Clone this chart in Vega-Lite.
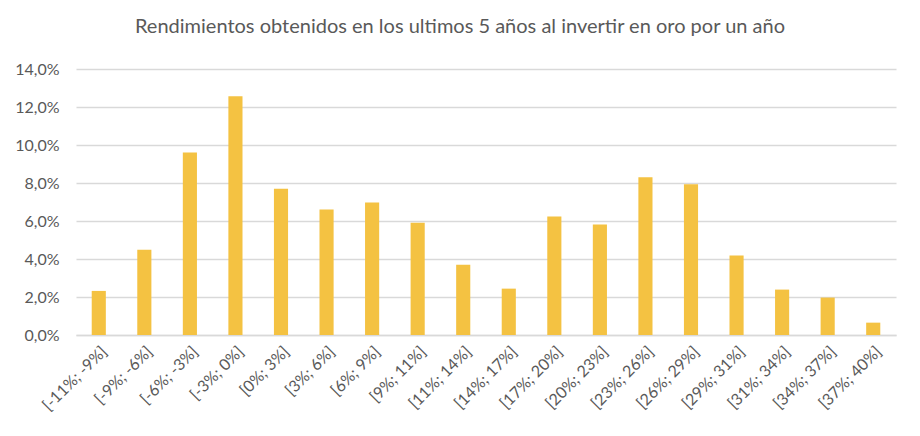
{
  "$schema": "https://vega.github.io/schema/vega-lite/v6.json",
  "width": 820,
  "height": 266,
  "autosize": {"type": "none"},
  "padding": {"left": 76, "top": 69, "right": 24, "bottom": 101},
  "background": "white",
  "title": {
    "text": "Rendimientos obtenidos en los ultimos 5 años al invertir en oro por un año",
    "font": "Lato",
    "fontSize": 20,
    "fontWeight": "normal",
    "color": "#595959",
    "anchor": "middle",
    "dx": -26,
    "offset": 24
  },
  "data": {
    "values": [
      {"rango": "[-11%; -9%]", "valor": 0.0232},
      {"rango": "[-9%; -6%]", "valor": 0.0449},
      {"rango": "[-6%; -3%]", "valor": 0.096},
      {"rango": "[-3%; 0%]", "valor": 0.1256},
      {"rango": "[0%; 3%]", "valor": 0.077},
      {"rango": "[3%; 6%]", "valor": 0.066},
      {"rango": "[6%; 9%]", "valor": 0.0697},
      {"rango": "[9%; 11%]", "valor": 0.0591},
      {"rango": "[11%; 14%]", "valor": 0.037},
      {"rango": "[14%; 17%]", "valor": 0.0244},
      {"rango": "[17%; 20%]", "valor": 0.0624},
      {"rango": "[20%; 23%]", "valor": 0.0582},
      {"rango": "[23%; 26%]", "valor": 0.083},
      {"rango": "[26%; 29%]", "valor": 0.0793},
      {"rango": "[29%; 31%]", "valor": 0.0418},
      {"rango": "[31%; 34%]", "valor": 0.0239},
      {"rango": "[34%; 37%]", "valor": 0.0197},
      {"rango": "[37%; 40%]", "valor": 0.0065}
    ]
  },
  "mark": {"type": "bar", "color": "#f4c242"},
  "encoding": {
    "x": {
      "field": "rango",
      "type": "nominal",
      "sort": null,
      "title": null,
      "scale": {"paddingInner": 0.69, "paddingOuter": 0.345},
      "axis": {
        "labelAngle": -45,
        "labelFont": "Lato",
        "labelFontSize": 16,
        "labelColor": "#595959",
        "labelPadding": 8,
        "ticks": false,
        "domainColor": "#d9d9d9",
        "domainWidth": 1.5,
        "grid": false
      }
    },
    "y": {
      "field": "valor",
      "type": "quantitative",
      "title": null,
      "scale": {"domain": [0, 0.14]},
      "axis": {
        "values": [0, 0.02, 0.04, 0.06, 0.08, 0.1, 0.12, 0.14],
        "labelExpr": "replace(format(datum.value, '.1%'), '.', ',')",
        "labelFont": "Lato",
        "labelFontSize": 16,
        "labelColor": "#595959",
        "labelPadding": 17,
        "ticks": false,
        "domain": false,
        "gridColor": "#d9d9d9",
        "gridWidth": 1.5
      }
    }
  },
  "config": {
    "view": {"stroke": null}
  }
}
